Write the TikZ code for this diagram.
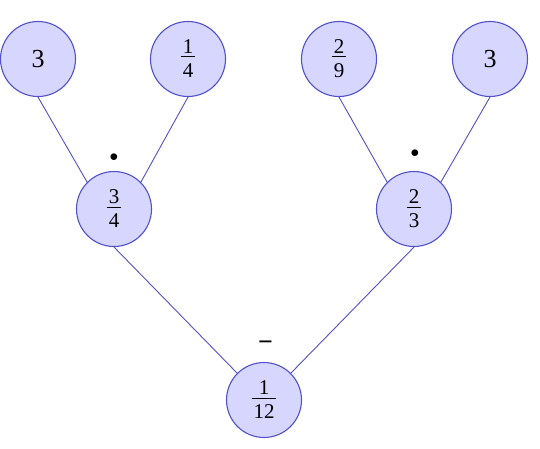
\documentclass[tikz,border=0pt]{standalone}
\usepackage{fontspec}
\setmainfont{Liberation Serif}
\usepackage{xcolor}
\usepackage{tikz}
\usetikzlibrary{positioning}

\definecolor{circfill}{RGB}{214,214,255}
\definecolor{circline}{RGB}{80,80,200}

% fraction set in text with a bar
\newcommand\fracn[2]{{\fontsize{21}{21}\selectfont\renewcommand\arraystretch{0}\setlength\arrayrulewidth{1pt}%
  \begin{tabular}{@{\hspace{1.8pt}}c@{\hspace{1.8pt}}}\rule{0pt}{15pt}#1\\[3pt]\hline\rule[-2pt]{0pt}{22pt}#2\end{tabular}}}

\begin{document}
\begin{tikzpicture}[x=1pt, y=-1pt,
    num/.style={circle, draw=circline, fill=circfill, line width=1.1pt, minimum size=75pt, inner sep=0pt, font=\fontsize{26}{30}\selectfont},
    oper/.style={inner sep=0pt},
    edge/.style={draw=circline, line width=0.9pt}]
  \useasboundingbox (0,0) rectangle (540,449);
  % leaves
  \node[num] (a) at (38,59) {3};
  \node[num] (b) at (188,59) {\fracn{1}{4}};
  \node[num] (c) at (339,59) {\fracn{2}{9}};
  \node[num] (d) at (490,59) {3};
  % inner nodes
  \node[num] (l) at (114,209) {\fracn{3}{4}};
  \node[num] (r) at (414,209) {\fracn{2}{3}};
  \node[num] (root) at (264,400) {\fracn{1}{12}};
  % operations
  \node[oper, font=\fontsize{16}{18}\selectfont] (opl) at (114,158) {$\bullet$};
  \node[oper, font=\fontsize{16}{18}\selectfont] (opr) at (415,154) {$\bullet$};
  \node[oper, font=\fontsize{26}{30}\selectfont\bfseries] (opm) at (265.5,345.7) {−};
  % edges
  \draw[edge] (a.south) -- (l.135);
  \draw[edge] (b.south) -- (l.45);
  \draw[edge] (c.south) -- (r.135);
  \draw[edge] (d.south) -- (r.45);
  \draw[edge] (l.south) -- (root.135);
  \draw[edge] (r.south) -- (root.45);
\end{tikzpicture}
\end{document}
